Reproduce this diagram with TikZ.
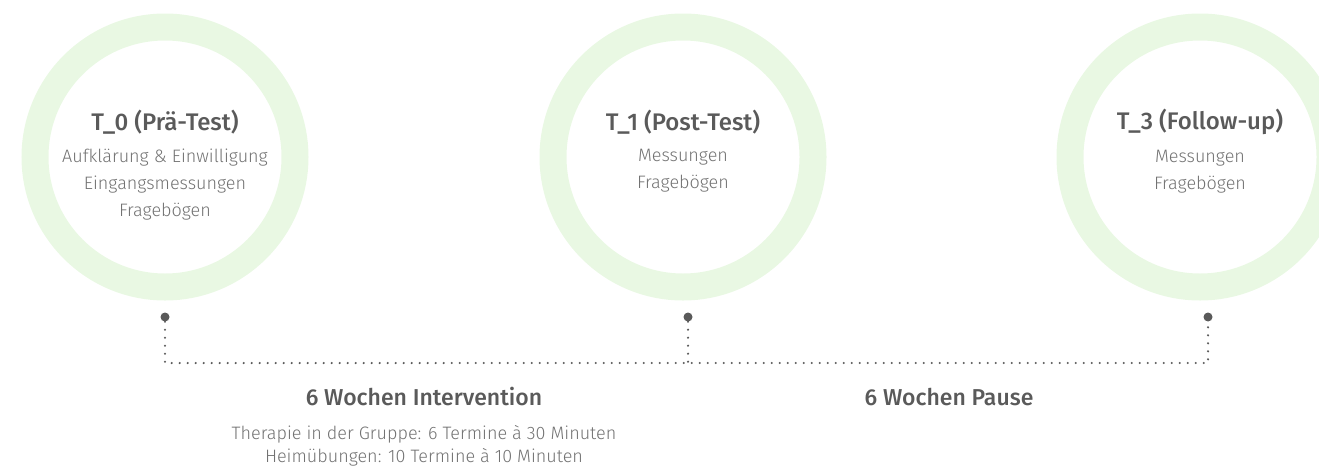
\documentclass[tikz,border=0pt]{standalone}
\usepackage{fontspec}
\setmainfont{Fira Sans}[UprightFont=*-Light, BoldFont=*-Medium]
\usepackage{tikz}
\usetikzlibrary{positioning,calc}

\definecolor{ringgreen}{HTML}{E9F8E3}
\definecolor{headgray}{HTML}{5A5A5A}
\definecolor{bodygray}{HTML}{727272}

\begin{document}
\begin{tikzpicture}[x=1pt, y=-1pt,
    ring/.style={circle, draw=ringgreen, line width=27pt, minimum size=260pt, inner sep=0pt},
    head/.style={font=\fontsize{24}{28}\selectfont\bfseries, text=headgray},
    body/.style={font=\fontsize{18}{27}\selectfont, text=bodygray, align=center},
    tpdot/.style={circle, fill=headgray, inner sep=0pt, minimum size=9pt},
    tldots/.style={draw=headgray, line width=2.4pt, line cap=round, dash pattern=on 0pt off 8pt}]
    \clip (0,0) rectangle (1319,466);

    % time points
    \node[ring] (t0) at (165,157) {};
    \node[ring] (t1) at (683,157) {};
    \node[ring] (t3) at (1200,157) {};

    \node[head] (h0) at (165,122) {T\_0 (Prä-Test)};
    \node[body, below=8pt of h0] (b0) {Aufklärung \& Einwilligung\\Eingangsmessungen\\Fragebögen};
    \node[head] (h1) at (683,122) {T\_1 (Post-Test)};
    \node[body, below=8pt of h1] (b1) {Messungen\\Fragebögen};
    \node[head] (h3) at (1200,122) {T\_3 (Follow-up)};
    \node[body, below=8pt of h3] (b3) {Messungen\\Fragebögen};

    % timeline
    \node[tpdot] (m0) at (165,317) {};
    \node[tpdot] (m1) at (688,317) {};
    \node[tpdot] (m3) at (1208,317) {};
    \coordinate (c0) at (165,363);
    \coordinate (c1) at (688,363);
    \coordinate (c3) at (1208,363);
    \draw[tldots] (m0) -- (c0) -- (c1) -- (c3) -- (m3);
    \draw[tldots] (m1) -- (c1);

    % phases
    \node[head, font=\fontsize{23}{27}\selectfont\bfseries] (p1) at (424,397) {6 Wochen Intervention};
    \node[body, font=\fontsize{18}{23}\selectfont, below=12pt of p1] (p1t) {Therapie in der Gruppe: 6 Termine à 30 Minuten\\Heimübungen: 10 Termine à 10 Minuten};
    \node[head, font=\fontsize{23}{27}\selectfont\bfseries] (p2) at (949,397) {6 Wochen Pause};
\end{tikzpicture}
\end{document}
